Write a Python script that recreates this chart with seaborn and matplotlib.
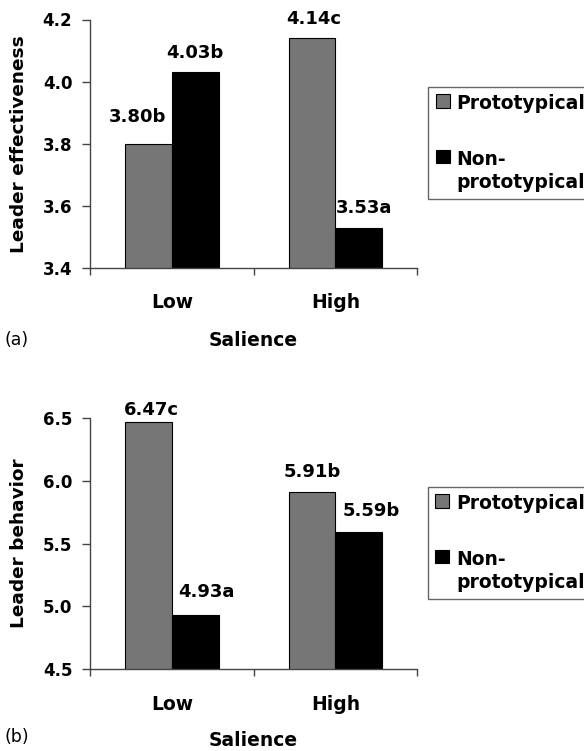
import matplotlib
matplotlib.use("Agg")
import matplotlib.pyplot as plt
from matplotlib.patches import Patch
from matplotlib.ticker import FixedLocator
import seaborn as sns
import pandas as pd

# ---------------- data ----------------
salience = ["Low", "High"]
groups = ["Prototypical", "Non-prototypical"]
legend_labels = ["Prototypical", "Non-\nprototypical"]

eff_proto = [3.80, 4.14]
eff_non = [4.03, 3.53]
eff_proto_labels = ["3.80b", "4.14c"]
eff_non_labels = ["4.03b", "3.53a"]
eff_ticks = [3.4, 3.6, 3.8, 4.0, 4.2]

beh_proto = [6.47, 5.91]
beh_non = [4.93, 5.59]
beh_proto_labels = ["6.47c", "5.91b"]
beh_non_labels = ["4.93a", "5.59b"]
beh_ticks = [4.5, 5.0, 5.5, 6.0, 6.5]

# ---------------- style ----------------
sns.set_style("white")
plt.rcParams["font.family"] = ["DejaVu Sans"]
plt.rcParams["font.weight"] = "bold"
plt.rcParams["axes.labelweight"] = "bold"
for key in ["text.color", "axes.labelcolor", "xtick.color", "ytick.color"]:
    plt.rcParams[key] = "black"

GREY = "#767676"
SPINE = "#444444"
W, H = 584, 751

fig = plt.figure(figsize=(W / 100, H / 100), dpi=100)


def fig_rect(left, top, right, bottom):
    return [left / W, 1 - bottom / H, (right - left) / W, (bottom - top) / H]


def panel(ax, proto, non, proto_labels, non_labels, ticks, ylabel,
          offsets, xpad, labelpad, legend_xy):
    df = pd.DataFrame({
        "Salience": salience * 2,
        "Group": [groups[0]] * len(salience) + [groups[1]] * len(salience),
        "value": proto + non,
    })
    sns.barplot(data=df, x="Salience", y="value", hue="Group",
                order=salience, hue_order=groups,
                palette=[GREY, "black"], saturation=1, width=0.571,
                edgecolor="black", linewidth=0.8, errorbar=None,
                legend=False, ax=ax)
    ax.set_xlim(-0.5, 1.5)
    ax.set_ylim(ticks[0], ticks[-1])
    ax.set_yticks(ticks)
    ax.set_yticklabels([f"{t:.1f}" for t in ticks])

    for cont, labs, offs in zip(ax.containers, [proto_labels, non_labels], offsets):
        for bar, lab, (dx, dy) in zip(cont.patches, labs, offs):
            ax.annotate(lab, xy=(bar.get_x() + bar.get_width() / 2, bar.get_height()),
                        xytext=(dx, dy), textcoords="offset points",
                        ha="center", va="baseline", fontsize=13,
                        fontweight="bold", color="black")

    sns.despine(ax=ax)
    for s in ["left", "bottom"]:
        ax.spines[s].set_color(SPINE)
        ax.spines[s].set_linewidth(1.0)

    ax.tick_params(axis="y", direction="out", length=5.5, width=1, color=SPINE,
                   labelcolor="black", pad=7.2, labelsize=12, left=True)
    ax.tick_params(axis="x", which="major", length=0, pad=xpad, labelsize=13.5,
                   labelcolor="black")
    ax.xaxis.set_minor_locator(FixedLocator([-0.5, 0.5, 1.5]))
    ax.tick_params(axis="x", which="minor", direction="out", length=5, width=1,
                   color=SPINE, bottom=True)

    ax.set_xlabel("Salience", fontsize=13.5, labelpad=labelpad, color="black")
    ax.set_ylabel(ylabel, fontsize=13.3, labelpad=10.6, color="black")

    handles = [Patch(facecolor=GREY, edgecolor="black", linewidth=0.8),
               Patch(facecolor="black", edgecolor="black", linewidth=0.8)]
    leg = ax.legend(handles, legend_labels, loc="upper left",
                    bbox_to_anchor=(legend_xy[0] / W, 1 - legend_xy[1] / H),
                    bbox_transform=fig.transFigure, borderaxespad=0,
                    frameon=True, fancybox=False, framealpha=1,
                    edgecolor="#666666", handlelength=0.75, handleheight=0.75,
                    handletextpad=0.37, labelspacing=1.95, borderpad=0.4,
                    fontsize=13.5, labelcolor="black")
    leg.get_frame().set_linewidth(1.0)
    for t in leg.get_texts():
        t.set_linespacing(1.28)
    # align each legend square with the first line of its label
    for col in leg._legend_handle_box.get_children():
        for item in col.get_children():
            item.align = "top"


ax1 = fig.add_axes(fig_rect(90, 19.5, 417.3, 268.3))
panel(ax1, eff_proto, eff_non, eff_proto_labels, eff_non_labels, eff_ticks,
      "Leader effectiveness",
      offsets=[[(-8, 15.8), (1.4, 10)], [(0, 10), (3.6, 10.8)]],
      xpad=17.5, labelpad=14, legend_xy=(428, 86.7))

ax2 = fig.add_axes(fig_rect(90, 418.3, 417.3, 669))
panel(ax2, beh_proto, beh_non, beh_proto_labels, beh_non_labels, beh_ticks,
      "Leader behavior",
      offsets=[[(2.2, 5), (0, 10.8)], [(8, 13), (8.6, 11.5)]],
      xpad=18.5, labelpad=12.5, legend_xy=(427.7, 486.7))

fig.text(5 / W, 1 - 345 / H, "(a)", fontsize=12.5, fontweight="normal",
         va="baseline", color="black")
fig.text(5 / W, 1 - 742 / H, "(b)", fontsize=12.5, fontweight="normal",
         va="baseline", color="black")

fig.savefig("out.png", dpi=100)
